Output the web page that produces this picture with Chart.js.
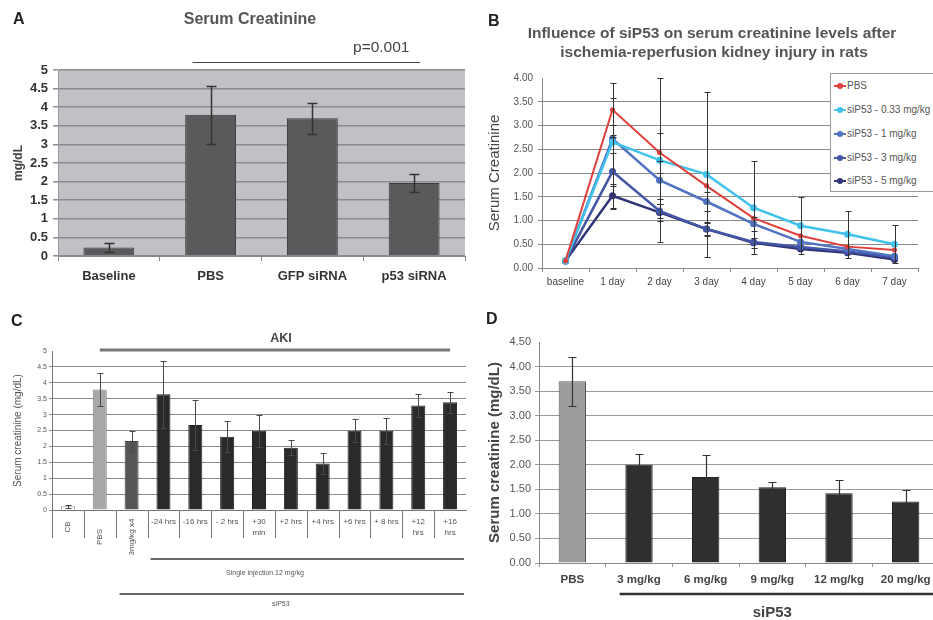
<!DOCTYPE html>
<html><head><meta charset="utf-8">
<script src="https://cdn.jsdelivr.net/npm/chart.js@4.4.1/dist/chart.umd.min.js"></script>
<style>
html,body{margin:0;padding:0;background:#fff;width:933px;height:620px;overflow:hidden;position:relative;font-family:'Liberation Sans',Arial,sans-serif;}
canvas{position:absolute;}
.l{position:absolute;line-height:1;font-weight:bold;font-size:16px;color:#222;white-space:nowrap}
.c{position:absolute;line-height:1;transform:translate(-50%,-50%);white-space:nowrap}
.lg{position:absolute;border:1px solid #999;background:#fff;box-sizing:border-box}
.le{position:absolute;left:0;width:110px;height:0}
.ln{position:absolute;left:3px;top:-1px;width:12px;height:2px}
.dt{position:absolute;left:6px;top:-3px;width:6px;height:6px;border-radius:50%}
.lt{position:absolute;left:16px;top:-5px;font-size:10px;line-height:10px;color:#555;white-space:nowrap}
</style></head><body>

<canvas id="cA" width="470" height="300" style="left:0;top:0"></canvas>
<canvas id="cB" width="463" height="300" style="left:470px;top:0"></canvas>
<canvas id="cC" width="470" height="320" style="left:0;top:300px"></canvas>
<canvas id="cD" width="470" height="320" style="left:470px;top:300px"></canvas>

<div class="l" style="left:13px;top:11px">A</div>
<div class="l" style="left:488px;top:13px">B</div>
<div class="l" style="left:11px;top:313px">C</div>
<div class="l" style="left:486px;top:311px">D</div>

<div class="c" style="left:250px;top:19px;font-weight:bold;font-size:16px;color:#555">Serum Creatinine</div>
<div class="c" style="left:712px;top:33px;font-weight:bold;font-size:15.5px;color:#555">Influence of siP53 on serum creatinine levels after</div>
<div class="c" style="left:714px;top:52px;font-weight:bold;font-size:15.5px;color:#555">ischemia-reperfusion kidney injury in rats</div>
<div class="c" style="left:281px;top:338px;font-weight:bold;font-size:12.5px;color:#444">AKI</div>

<div class="lg" id="legB" style="left:830px;top:73px;width:112px;height:119px"></div>

<script>
// ---------- Panel A ----------
const aCategories = ['Baseline', 'PBS', 'GFP siRNA', 'p53 siRNA'];
const aValues = [0.23, 3.80, 3.70, 1.96];
const aErrors = [0.12, 0.78, 0.41, 0.25];
const aTickLabels = ['0', '0.5', '1', '1.5', '2', '2.5', '3', '3.5', '4', '4.5', '5'];

// ---------- Panel B ----------
const bCategories = ['baseline', '1 day', '2 day', '3 day', '4 day', '5 day', '6 day', '7 day'];
const bSeriesNames = ['PBS', 'siP53 - 0.33 mg/kg', 'siP53 - 1 mg/kg', 'siP53 - 3 mg/kg', 'siP53 - 5 mg/kg'];
const bPBS    = [0.15, 3.33, 2.43, 1.73, 1.05, 0.68, 0.45, 0.38];
const bSi033  = [0.15, 2.65, 2.27, 1.97, 1.27, 0.89, 0.71, 0.50];
const bSi1    = [0.15, 2.72, 1.85, 1.40, 0.93, 0.55, 0.40, 0.25];
const bSi3    = [0.15, 2.03, 1.20, 0.82, 0.55, 0.44, 0.35, 0.22];
const bSi5    = [0.15, 1.52, 1.17, 0.82, 0.53, 0.40, 0.32, 0.18];
const bPBSErr   = [null, 0.57, 0.42, null, null, null, null, null];
const bSi033Err = [null, 0.93, 1.73, 1.73, 0.98, 0.60, 0.50, 0.40];
const bSi1Err   = [null, 0.30, 0.40, 0.20, 0.15, null, null, null];
const bSi3Err   = [null, 0.78, 0.15, 0.15, null, null, null, null];
const bSi5Err   = [null, 0.25, 0.18, 0.12, 0.10, null, null, null];
const bTickLabels = ['0.00', '0.50', '1.00', '1.50', '2.00', '2.50', '3.00', '3.50', '4.00'];

// ---------- Panel C ----------
const cCategories = ['CB', 'PBS', '3mg/kg x4', '-24 hrs', '-16 hrs', '- 2 hrs', ['+30', 'min'], '+2 hrs', '+4 hrs', '+6 hrs', '+ 8 hrs', ['+12', 'hrs'], ['+16', 'hrs']];
const cValues = [0.12, 3.79, 2.17, 3.64, 2.67, 2.30, 2.49, 1.96, 1.46, 2.49, 2.49, 3.29, 3.39];
const cErrors = [0.05, 0.51, 0.32, 1.06, 0.79, 0.49, 0.51, 0.23, 0.34, 0.36, 0.41, 0.36, 0.33];
const cTickLabels = ['0', '0.5', '1', '1.5', '2', '2.5', '3', '3.5', '4', '4.5', '5'];

// ---------- Panel D ----------
const dCategories = ['PBS', '3 mg/kg', '6 mg/kg', '9 mg/kg', '12 mg/kg', '20 mg/kg'];
const dValues = [3.70, 2.00, 1.75, 1.54, 1.42, 1.25];
const dErrors = [0.50, 0.21, 0.44, 0.11, 0.26, 0.24];
const dTickLabels = ['0.00', '0.50', '1.00', '1.50', '2.00', '2.50', '3.00', '3.50', '4.00', '4.50'];

Chart.defaults.font.family = "'Liberation Sans', Arial, sans-serif";
Chart.defaults.animation = false;
Chart.defaults.plugins.legend.display = false;
Chart.defaults.plugins.tooltip.enabled = false;

// generic error bar plugin
const errorBars = {
  id: 'errorBars',
  afterDatasetsDraw(chart, args, opts) {
    const ctx = chart.ctx, y = chart.scales.y;
    chart.data.datasets.forEach((ds, i) => {
      if (!ds.errors) return;
      const meta = chart.getDatasetMeta(i);
      meta.data.forEach((el, j) => {
        const e = ds.errors[j];
        if (e == null) return;
        const v = ds.data[j];
        const x = Math.round(el.x) + 0.5;
        const yt = Math.round(y.getPixelForValue(v + e)) + 0.5;
        const yb = Math.round(y.getPixelForValue(Math.max(0, v - e))) + 0.5;
        const c = (opts.cap || 8) / 2;
        ctx.save();
        ctx.strokeStyle = opts.color || '#333';
        ctx.lineWidth = opts.width || 1;
        ctx.beginPath();
        ctx.moveTo(x, yt); ctx.lineTo(x, yb);
        ctx.moveTo(x - c, yt); ctx.lineTo(x + c, yt);
        ctx.moveTo(x - c, yb); ctx.lineTo(x + c, yb);
        ctx.stroke();
        ctx.restore();
      });
    });
  }
};

const areaBg = {
  id: 'areaBg',
  beforeDraw(chart, args, opts) {
    const {ctx, chartArea: a} = chart;
    ctx.save();
    ctx.fillStyle = opts.color;
    ctx.fillRect(a.left, a.top, a.right - a.left, a.bottom - a.top);
    ctx.restore();
  }
};

// ---------- Chart A ----------
const aAnnot = {
  id: 'aAnnot',
  afterDraw(chart) {
    const {ctx, scales: {x}} = chart;
    const x1 = x.getPixelForValue(1) - 18, x2 = x.getPixelForValue(3) + 6;
    ctx.save();
    ctx.strokeStyle = '#444'; ctx.lineWidth = 1;
    ctx.beginPath(); ctx.moveTo(x1, 62.5); ctx.lineTo(x2, 62.5); ctx.stroke();
    ctx.fillStyle = '#444';
    ctx.font = "15.5px 'Liberation Sans', Arial, sans-serif";
    ctx.textAlign = 'center'; ctx.textBaseline = 'alphabetic';
    ctx.fillText('p=0.001', (x.getPixelForValue(2) + x.getPixelForValue(3)) / 2 + 18, 52);
    ctx.restore();
  }
};

new Chart(document.getElementById('cA'), {
  type: 'bar',
  data: {
    labels: aCategories,
    datasets: [{
      data: aValues, errors: aErrors,
      backgroundColor: '#5a5a5c', borderColor: '#3c3c3c', borderWidth: 1,
      barPercentage: 0.5, categoryPercentage: 1
    }]
  },
  options: {
    responsive: false,
    layout: {padding: {top: 70, right: 5, bottom: 0, left: 0}},
    scales: {
      x: {
        afterFit: s => { s.height = 44; },
        grid: {display: true, drawOnChartArea: false, offset: true, tickLength: 5, color: '#888'},
        border: {color: '#888'},
        ticks: {color: '#333', font: {size: 13, weight: 'bold'}, padding: 8, maxRotation: 0, autoSkip: false}
      },
      y: {
        min: 0, max: 5,
        afterFit: s => { s.width = 58; },
        ticks: {stepSize: 0.5, color: '#333', font: {size: 13, weight: 'bold'}, padding: 5,
                callback: (v, i) => aTickLabels[i]},
        grid: {color: '#8c8c90', tickLength: 5, lineWidth: 1.5},
        border: {color: '#999'},
        title: {display: true, text: 'mg/dL', color: '#444', font: {size: 12, weight: 'bold'}, padding: {top: 11, bottom: 0}}
      }
    },
    plugins: {errorBars: {cap: 10, color: '#333', width: 1.5}, areaBg: {color: '#c1c1c5'}}
  },
  plugins: [areaBg, errorBars, aAnnot]
});

// ---------- Chart B ----------
const bColors = ['#e0403c', '#40c2ea', '#4f72c2', '#4456a6', '#2f3477'];
const bData = [bPBS, bSi033, bSi1, bSi3, bSi5];
const bErrs = [bPBSErr, bSi033Err, bSi1Err, bSi3Err, bSi5Err];

new Chart(document.getElementById('cB'), {
  type: 'line',
  data: {
    labels: bCategories,
    datasets: bData.map((d, i) => ({
      label: bSeriesNames[i], data: d, errors: bErrs[i],
      borderColor: bColors[i], backgroundColor: bColors[i],
      borderWidth: i === 0 ? 2 : 2.5, pointRadius: i === 0 ? 2.5 : 3.5,
      pointBackgroundColor: bColors[i], pointBorderWidth: 0, tension: 0, fill: false,
      order: i === 0 ? 0 : i + 1
    }))
  },
  options: {
    responsive: false,
    layout: {padding: {top: 78, right: 15, bottom: 0, left: 0}},
    scales: {
      x: {
        offset: true,
        afterFit: s => { s.height = 32; },
        grid: {display: true, drawOnChartArea: false, offset: true, tickLength: 4, color: '#888'},
        border: {color: '#888'},
        ticks: {color: '#444', font: {size: 10}, padding: 4, maxRotation: 0, autoSkip: false}
      },
      y: {
        min: 0, max: 4,
        afterFit: s => { s.width = 72; },
        ticks: {stepSize: 0.5, color: '#555', font: {size: 10}, padding: 5, callback: (v, i) => bTickLabels[i]},
        grid: {tickLength: 4, color: c => (c.tick && c.tick.value === 4) ? 'rgba(0,0,0,0)' : '#8a8a8a'},
        border: {color: '#888'},
        title: {display: true, text: 'Serum Creatinine', color: '#444', font: {size: 15}, padding: {top: 16, bottom: 0}}
      }
    },
    plugins: {errorBars: {cap: 6, color: '#333', width: 1}}
  },
  plugins: [errorBars]
});

// HTML legend for B (from series arrays)
(function () {
  const box = document.getElementById('legB');
  const ys = [12, 36, 60, 84, 107];
  bSeriesNames.forEach((n, i) => {
    const e = document.createElement('div');
    e.className = 'le'; e.style.top = ys[i] + 'px';
    e.innerHTML = '<span class="ln" style="background:' + bColors[i] + '"></span><span class="dt" style="background:' + bColors[i] + '"></span><span class="lt">' + n + '</span>';
    box.appendChild(e);
  });
})();

// ---------- Chart C ----------
const cDecor = {
  id: 'cDecor',
  afterDraw(chart) {
    const {ctx, scales: {x}, chartArea: a} = chart;
    const w = x.getPixelForValue(1) - x.getPixelForValue(0);
    const font = s => s + "px 'Liberation Sans', Arial, sans-serif";
    ctx.save();
    // AKI bar
    ctx.strokeStyle = '#777'; ctx.lineWidth = 3;
    ctx.beginPath(); ctx.moveTo(x.getPixelForValue(1), a.top - 1); ctx.lineTo(x.getPixelForValue(12), a.top - 1); ctx.stroke();
    // separators
    ctx.strokeStyle = '#777'; ctx.lineWidth = 1;
    for (let i = 0; i < cCategories.length; i++) {
      const bx = Math.round(x.getPixelForValue(i) - w / 2) + 0.5;
      ctx.beginPath(); ctx.moveTo(bx, a.bottom); ctx.lineTo(bx, a.bottom + 28); ctx.stroke();
    }
    // labels
    ctx.fillStyle = '#555';
    ctx.font = font(8);
    ctx.textBaseline = 'middle';
    cCategories.forEach((lab, i) => {
      const cx = x.getPixelForValue(i);
      if (i < 3) {
        ctx.save();
        ctx.translate(cx, a.bottom + (i === 0 ? 17 : 27));
        ctx.rotate(-Math.PI / 2);
        ctx.textAlign = 'center';
        ctx.fillText(lab, 0, 0);
        ctx.restore();
      } else {
        ctx.textAlign = 'center';
        const lines = Array.isArray(lab) ? lab : [lab];
        lines.forEach((t, k) => ctx.fillText(t, cx, a.bottom + 12 + k * 11));
      }
    });
    // brackets
    const right = a.right - 2;
    ctx.strokeStyle = '#666'; ctx.lineWidth = 2;
    const s1 = x.getPixelForValue(3) - w / 2 + 3;
    ctx.beginPath(); ctx.moveTo(s1, a.bottom + 49); ctx.lineTo(right, a.bottom + 49); ctx.stroke();
    const s2 = x.getPixelForValue(2) - 12;
    ctx.beginPath(); ctx.moveTo(s2, a.bottom + 84); ctx.lineTo(right, a.bottom + 84); ctx.stroke();
    ctx.font = font(7);
    ctx.textAlign = 'center';
    ctx.fillText('Single injection 12 mg/kg', x.getPixelForValue(6) + 6, a.bottom + 63);
    ctx.fillText('siP53', x.getPixelForValue(7) - 10, a.bottom + 94);
    ctx.restore();
  }
};

new Chart(document.getElementById('cC'), {
  type: 'bar',
  data: {
    labels: cCategories,
    datasets: [{
      data: cValues, errors: cErrors,
      backgroundColor: c => c.dataIndex === 0 ? '#ffffff' : c.dataIndex === 1 ? '#a8a8a8' : c.dataIndex === 2 ? '#555555' : '#2a2a2a',
      borderColor: c => c.dataIndex === 0 ? '#999' : c.dataIndex === 1 ? '#888' : c.dataIndex === 2 ? '#444' : '#222',
      borderWidth: 1,
      barPercentage: 0.44, categoryPercentage: 1
    }]
  },
  options: {
    responsive: false,
    layout: {padding: {top: 51, right: 4, bottom: 0, left: 0}},
    scales: {
      x: {
        afterFit: s => { s.height = 110; },
        grid: {display: false},
        border: {color: '#777'},
        ticks: {display: false}
      },
      y: {
        min: 0, max: 5,
        afterFit: s => { s.width = 52; },
        ticks: {stepSize: 0.5, color: '#555', font: {size: 7}, padding: 2, callback: (v, i) => cTickLabels[i]},
        grid: {tickLength: 3, color: c => (c.tick && c.tick.value === 5) ? 'rgba(0,0,0,0)' : '#8a8a8a'},
        border: {color: '#777'},
        title: {display: true, text: 'Serum creatinine (mg/dL)', color: '#555', font: {size: 10}, padding: {top: 12, bottom: 0}}
      }
    },
    plugins: {errorBars: {cap: 6, color: '#4a4a4a', width: 1}}
  },
  plugins: [errorBars, cDecor]
});

// ---------- Chart D ----------
const dDecor = {
  id: 'dDecor',
  afterDraw(chart) {
    const {ctx, scales: {x}, chartArea: a} = chart;
    const w = x.getPixelForValue(1) - x.getPixelForValue(0);
    ctx.save();
    ctx.strokeStyle = '#333'; ctx.lineWidth = 2.5;
    const s = x.getPixelForValue(1) - w / 2 + 14;
    ctx.beginPath(); ctx.moveTo(s, a.bottom + 31); ctx.lineTo(chart.width, a.bottom + 31); ctx.stroke();
    ctx.fillStyle = '#444';
    ctx.font = "bold 15px 'Liberation Sans', Arial, sans-serif";
    ctx.textAlign = 'center'; ctx.textBaseline = 'middle';
    ctx.fillText('siP53', (x.getPixelForValue(1) + x.getPixelForValue(5)) / 2, a.bottom + 50);
    ctx.restore();
  }
};

new Chart(document.getElementById('cD'), {
  type: 'bar',
  data: {
    labels: dCategories,
    datasets: [{
      data: dValues, errors: dErrors,
      backgroundColor: c => c.dataIndex === 0 ? '#9c9c9c' : '#2f2f2f',
      borderColor: c => c.dataIndex === 0 ? '#555' : '#222',
      borderWidth: 1,
      barPercentage: 0.41, categoryPercentage: 1
    }]
  },
  options: {
    responsive: false,
    layout: {padding: {top: 42, right: 1, bottom: 0, left: 0}},
    scales: {
      x: {
        afterFit: s => { s.height = 57; },
        grid: {display: true, drawOnChartArea: false, offset: true, tickLength: 4, color: '#999'},
        border: {color: '#888'},
        ticks: {color: '#444', font: {size: 11.5, weight: 'bold'}, padding: 6, maxRotation: 0, autoSkip: false}
      },
      y: {
        min: 0, max: 4.5,
        afterFit: s => { s.width = 69; },
        ticks: {stepSize: 0.5, color: '#555', font: {size: 11}, padding: 4, callback: (v, i) => dTickLabels[i]},
        grid: {tickLength: 4, color: c => (c.tick && c.tick.value === 4.5) ? 'rgba(0,0,0,0)' : '#9a9a9a'},
        border: {color: '#888'},
        title: {display: true, text: 'Serum creatinine (mg/dL)', color: '#444', font: {size: 15, weight: 'bold'}, padding: {top: 16, bottom: 0}}
      }
    },
    plugins: {errorBars: {cap: 8, color: '#333', width: 1.2}}
  },
  plugins: [errorBars, dDecor]
});
</script>
</body></html>
